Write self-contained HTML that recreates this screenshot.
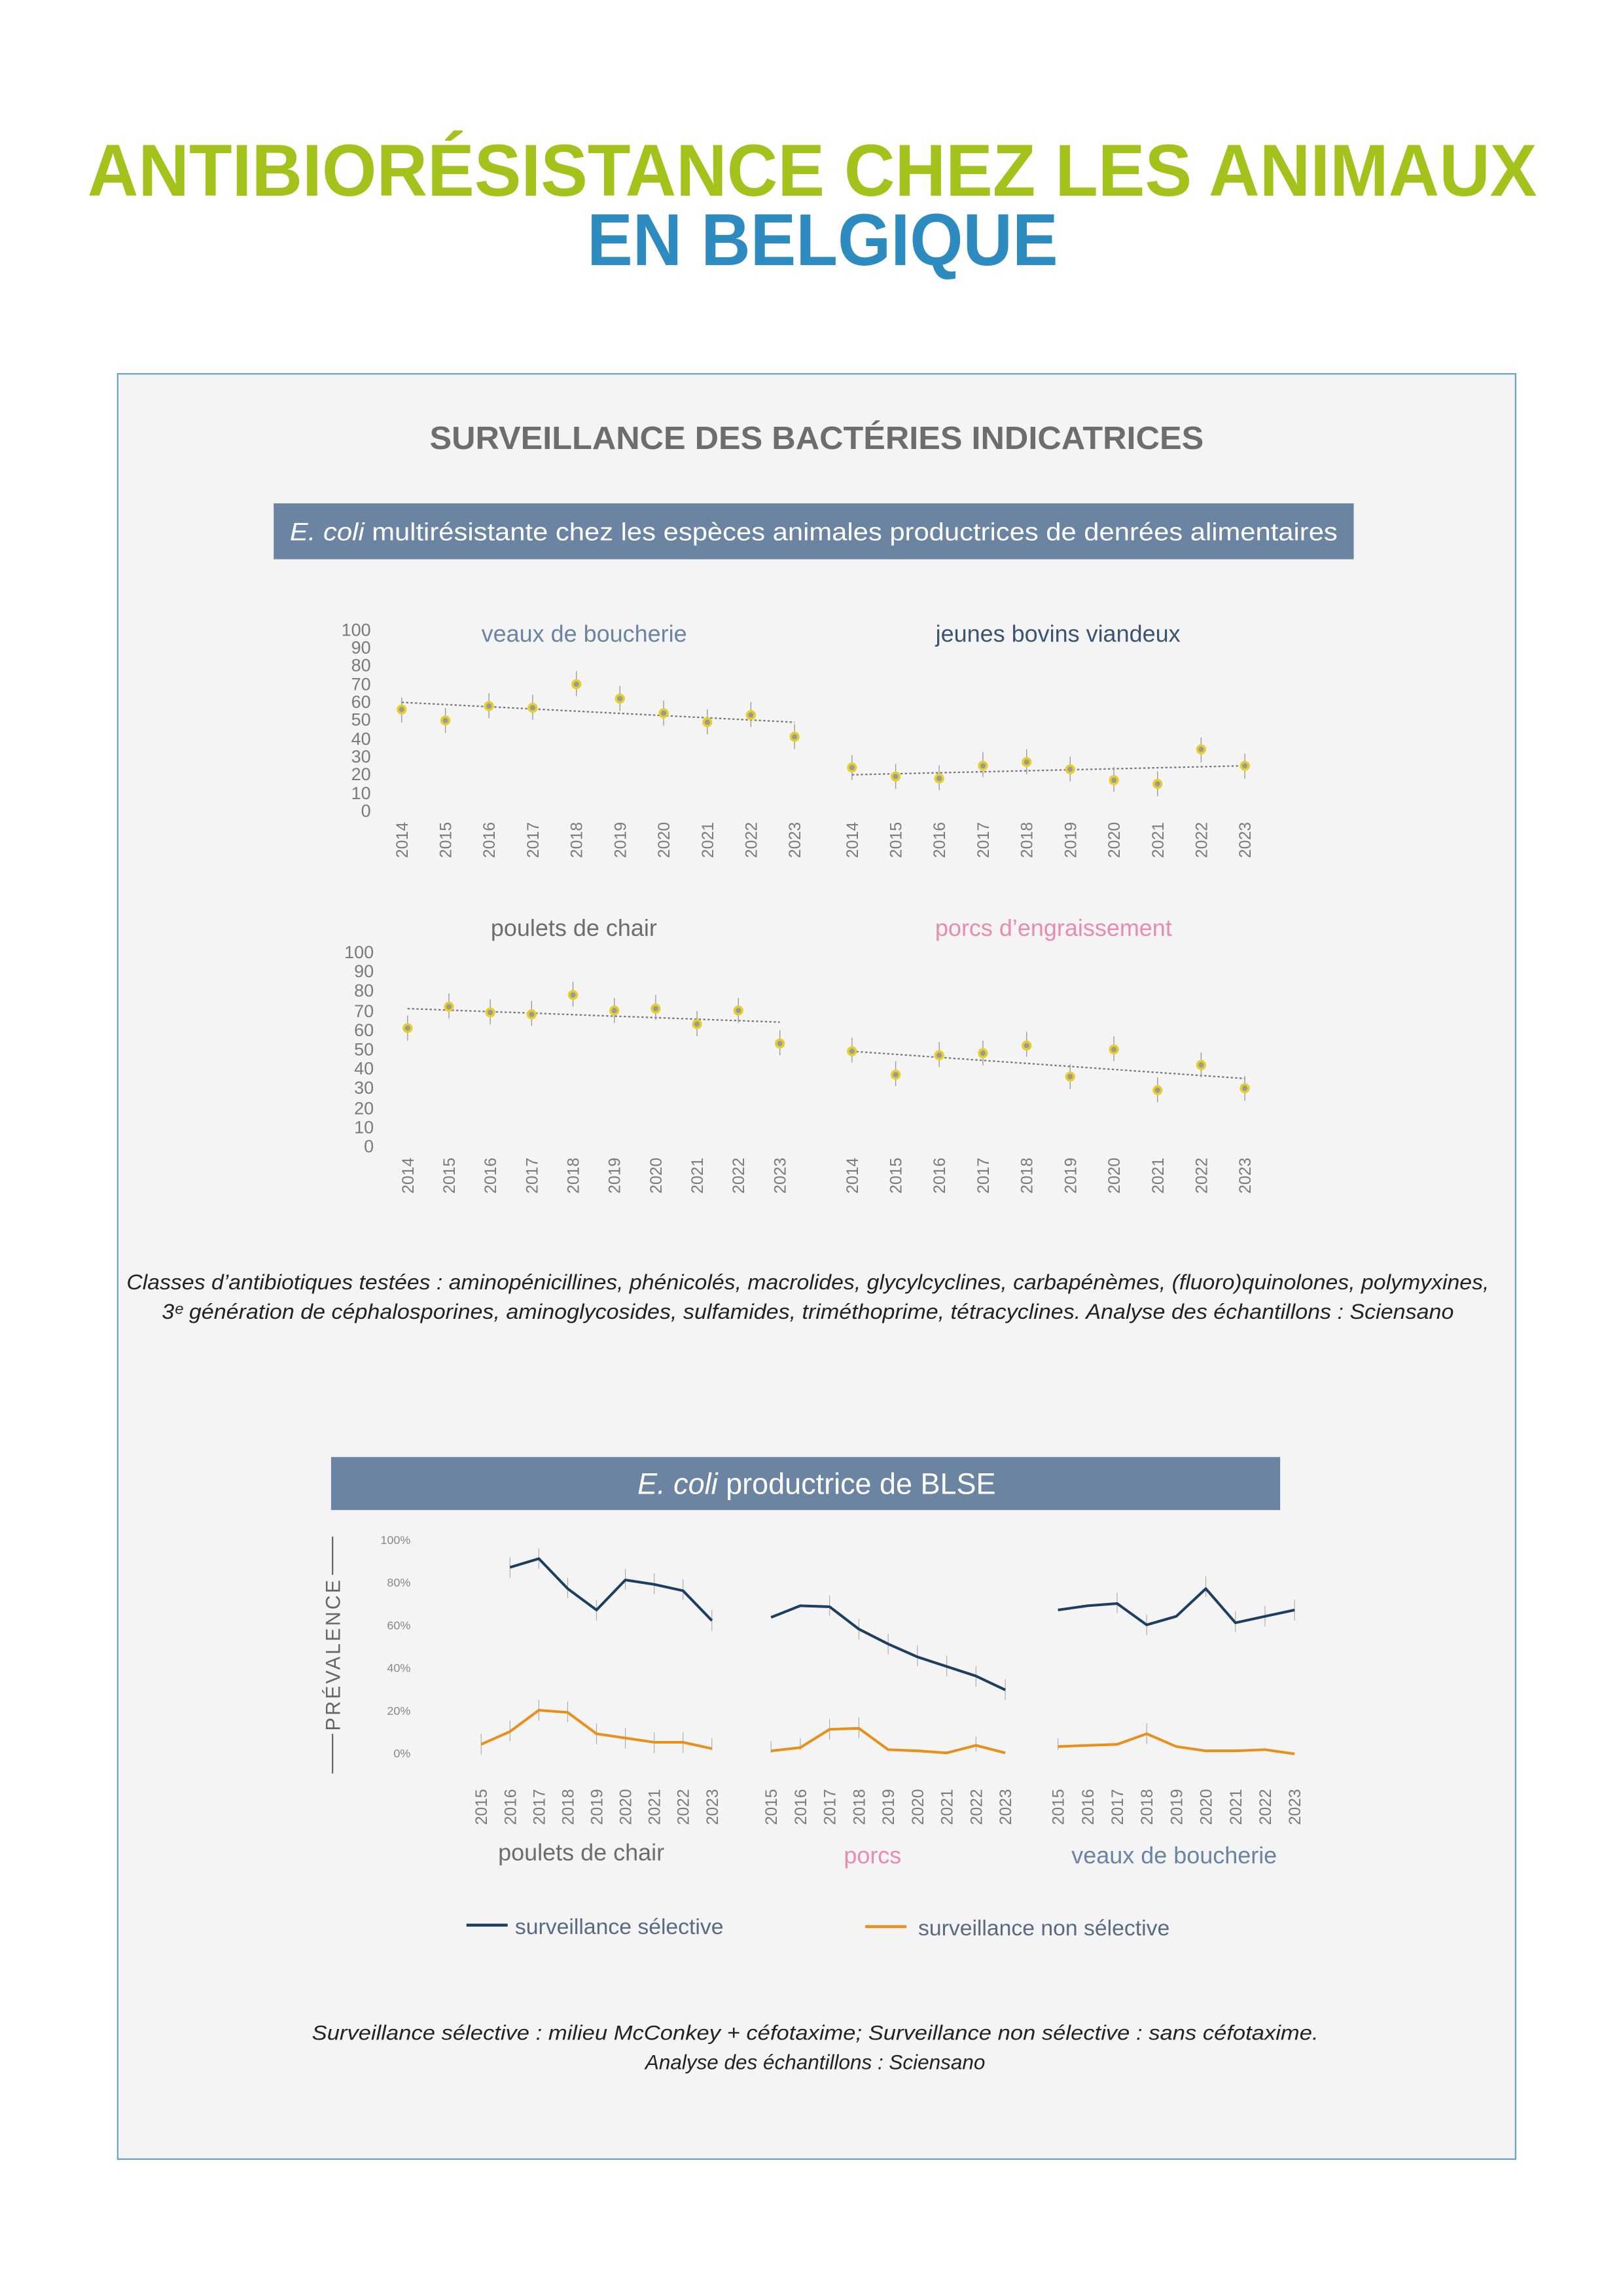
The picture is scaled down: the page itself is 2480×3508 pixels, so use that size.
<!DOCTYPE html>
<html><head><meta charset="utf-8"><style>
html,body{margin:0;padding:0;background:#fff}
svg{display:block}
text{font-family:"Liberation Sans",sans-serif}
</style></head><body>
<svg width="2480" height="3508" viewBox="0 0 1103 1560" preserveAspectRatio="none" xmlns="http://www.w3.org/2000/svg">
<rect width="1103" height="1560" fill="#fff"/>
<text x="552" y="133" text-anchor="middle" font-size="50" font-weight="bold" fill="#a4c21c" textLength="985" lengthAdjust="spacingAndGlyphs">ANTIBIORÉSISTANCE CHEZ LES ANIMAUX</text>
<text x="559" y="180" text-anchor="middle" font-size="50" font-weight="bold" fill="#2e8bc0" textLength="320" lengthAdjust="spacingAndGlyphs">EN BELGIQUE</text>
<rect x="80" y="254" width="950" height="1213" fill="#f4f4f4" stroke="#6aa6c6" stroke-width="1"/>
<text x="555" y="305" text-anchor="middle" font-size="22" font-weight="bold" fill="#6d6d6d" textLength="526" lengthAdjust="spacingAndGlyphs">SURVEILLANCE DES BACTÉRIES INDICATRICES</text>
<rect x="186" y="342" width="734" height="38" fill="#6a84a2"/>
<text x="553" y="367" text-anchor="middle" font-size="17" fill="#fff" textLength="712" lengthAdjust="spacingAndGlyphs"><tspan font-style="italic">E. coli</tspan> multirésistante chez les espèces animales productrices de denrées alimentaires</text>

<g font-size="12" fill="#7a7a7a" text-anchor="end">
<text x="252" y="432">100</text><text x="252" y="444">90</text><text x="252" y="456">80</text><text x="252" y="469">70</text><text x="252" y="481">60</text><text x="252" y="493">50</text><text x="252" y="506">40</text><text x="252" y="518">30</text><text x="252" y="530">20</text><text x="252" y="543">10</text><text x="252" y="555">0</text>
<text x="254" y="651">100</text><text x="254" y="664">90</text><text x="254" y="677">80</text><text x="254" y="691">70</text><text x="254" y="704">60</text><text x="254" y="717">50</text><text x="254" y="730">40</text><text x="254" y="743">30</text><text x="254" y="757">20</text><text x="254" y="770">10</text><text x="254" y="783">0</text>
</g>
<text x="397" y="436" text-anchor="middle" font-size="16" fill="#6a84a2">veaux de boucherie</text>
<text x="719" y="436" text-anchor="middle" font-size="16" fill="#3c5470">jeunes bovins viandeux</text>
<text x="390" y="636" text-anchor="middle" font-size="16" fill="#6d6d6d">poulets de chair</text>
<text x="716" y="636" text-anchor="middle" font-size="16" fill="#e88bb0">porcs d’engraissement</text>

<g stroke="#777" stroke-width="1" stroke-dasharray="1.5,1.5">
<line x1="273" y1="477.2" x2="540" y2="490.7"/>
<line x1="579" y1="526.4" x2="846" y2="520.3"/>
<line x1="277" y1="685.3" x2="530" y2="694.5"/>
<line x1="579" y1="714.3" x2="846" y2="732.8"/>
</g>
<g stroke="#999" stroke-width="0.6">
<path d="M273 474v17M302.7 481v17M332.3 471v17M362 472v17M391.7 456v17M421.3 466v17M451 476v17M480.7 482v17M510.3 477v17M540 492v17"/>
<path d="M579 513v17M608.7 519v17M638.3 520v17M668 511v17M697.7 509v17M727.3 514v17M757 521v17M786.7 524v17M816.3 501v17M846 512v17"/>
<path d="M277 690v17M305.1 675v17M333.2 679v17M361.3 680v17M389.4 667v17M417.5 678v17M445.6 676v17M473.7 687v17M501.8 678v17M530 700v17"/>
<path d="M579 705v17M608.7 721v17M638.3 708v17M668 707v17M697.7 701v17M727.3 723v17M757 704v17M786.7 732v17M816.3 715v17M846 731v17"/>
</g>
<g fill="#9a9a9a" stroke="#e6cf2a" stroke-width="1.6">
<circle cx="273" cy="482.1" r="2.6"/><circle cx="302.7" cy="489.5" r="2.6"/><circle cx="332.3" cy="479.7" r="2.6"/><circle cx="362" cy="480.9" r="2.6"/><circle cx="391.7" cy="464.9" r="2.6"/><circle cx="421.3" cy="474.7" r="2.6"/><circle cx="451" cy="484.6" r="2.6"/><circle cx="480.7" cy="490.7" r="2.6"/><circle cx="510.3" cy="485.8" r="2.6"/><circle cx="540" cy="500.6" r="2.6"/>
<circle cx="579" cy="521.5" r="2.6"/><circle cx="608.7" cy="527.6" r="2.6"/><circle cx="638.3" cy="528.9" r="2.6"/><circle cx="668" cy="520.3" r="2.6"/><circle cx="697.7" cy="517.8" r="2.6"/><circle cx="727.3" cy="522.7" r="2.6"/><circle cx="757" cy="530.1" r="2.6"/><circle cx="786.7" cy="532.6" r="2.6"/><circle cx="816.3" cy="509.2" r="2.6"/><circle cx="846" cy="520.3" r="2.6"/>
<circle cx="277" cy="698.5" r="2.6"/><circle cx="305.1" cy="684" r="2.6"/><circle cx="333.2" cy="687.9" r="2.6"/><circle cx="361.3" cy="689.2" r="2.6"/><circle cx="389.4" cy="676" r="2.6"/><circle cx="417.5" cy="686.6" r="2.6"/><circle cx="445.6" cy="685.3" r="2.6"/><circle cx="473.7" cy="695.8" r="2.6"/><circle cx="501.8" cy="686.6" r="2.6"/><circle cx="530" cy="709" r="2.6"/>
<circle cx="579" cy="714.3" r="2.6"/><circle cx="608.7" cy="730.2" r="2.6"/><circle cx="638.3" cy="717" r="2.6"/><circle cx="668" cy="715.6" r="2.6"/><circle cx="697.7" cy="710.4" r="2.6"/><circle cx="727.3" cy="731.5" r="2.6"/><circle cx="757" cy="713" r="2.6"/><circle cx="786.7" cy="740.7" r="2.6"/><circle cx="816.3" cy="723.6" r="2.6"/><circle cx="846" cy="739.4" r="2.6"/>
</g>
<g font-size="11" fill="#7a7a7a">
<text transform="translate(277,583) rotate(-90)">2014</text><text transform="translate(306.7,583) rotate(-90)">2015</text><text transform="translate(336.3,583) rotate(-90)">2016</text><text transform="translate(366,583) rotate(-90)">2017</text><text transform="translate(395.7,583) rotate(-90)">2018</text><text transform="translate(425.3,583) rotate(-90)">2019</text><text transform="translate(455,583) rotate(-90)">2020</text><text transform="translate(484.7,583) rotate(-90)">2021</text><text transform="translate(514.3,583) rotate(-90)">2022</text><text transform="translate(544,583) rotate(-90)">2023</text>
<text transform="translate(583,583) rotate(-90)">2014</text><text transform="translate(612.7,583) rotate(-90)">2015</text><text transform="translate(642.3,583) rotate(-90)">2016</text><text transform="translate(672,583) rotate(-90)">2017</text><text transform="translate(701.7,583) rotate(-90)">2018</text><text transform="translate(731.3,583) rotate(-90)">2019</text><text transform="translate(761,583) rotate(-90)">2020</text><text transform="translate(790.7,583) rotate(-90)">2021</text><text transform="translate(820.3,583) rotate(-90)">2022</text><text transform="translate(850,583) rotate(-90)">2023</text>
<text transform="translate(281,811) rotate(-90)">2014</text><text transform="translate(309.1,811) rotate(-90)">2015</text><text transform="translate(337.2,811) rotate(-90)">2016</text><text transform="translate(365.3,811) rotate(-90)">2017</text><text transform="translate(393.4,811) rotate(-90)">2018</text><text transform="translate(421.5,811) rotate(-90)">2019</text><text transform="translate(449.6,811) rotate(-90)">2020</text><text transform="translate(477.7,811) rotate(-90)">2021</text><text transform="translate(505.8,811) rotate(-90)">2022</text><text transform="translate(534,811) rotate(-90)">2023</text>
<text transform="translate(583,811) rotate(-90)">2014</text><text transform="translate(612.7,811) rotate(-90)">2015</text><text transform="translate(642.3,811) rotate(-90)">2016</text><text transform="translate(672,811) rotate(-90)">2017</text><text transform="translate(701.7,811) rotate(-90)">2018</text><text transform="translate(731.3,811) rotate(-90)">2019</text><text transform="translate(761,811) rotate(-90)">2020</text><text transform="translate(790.7,811) rotate(-90)">2021</text><text transform="translate(820.3,811) rotate(-90)">2022</text><text transform="translate(850,811) rotate(-90)">2023</text>
</g>
<g font-size="14.5" font-style="italic" fill="#222" text-anchor="middle">
<text x="549" y="876" textLength="926" lengthAdjust="spacingAndGlyphs">Classes d’antibiotiques testées : aminopénicillines, phénicolés, macrolides, glycylcyclines, carbapénèmes, (fluoro)quinolones, polymyxines,</text>
<text x="549" y="896" textLength="878" lengthAdjust="spacingAndGlyphs">3ᵉ génération de céphalosporines, aminoglycosides, sulfamides, triméthoprime, tétracyclines. Analyse des échantillons : Sciensano</text>
</g>

<rect x="225" y="990" width="645" height="36" fill="#6a84a2"/>
<text x="555" y="1015" text-anchor="middle" font-size="20" fill="#fff"><tspan font-style="italic">E. coli</tspan> productrice de BLSE</text>

<line x1="226" y1="1044" x2="226" y2="1070" stroke="#666" stroke-width="1"/>
<line x1="226" y1="1178" x2="226" y2="1205" stroke="#666" stroke-width="1"/>
<text transform="translate(231,1176) rotate(-90)" font-size="14" fill="#666" letter-spacing="1.5" textLength="104" lengthAdjust="spacingAndGlyphs">PRÉVALENCE</text>
<g font-size="8" fill="#888" text-anchor="end">
<text x="279" y="1049">100%</text><text x="279" y="1078">80%</text><text x="279" y="1107">60%</text><text x="279" y="1136">40%</text><text x="279" y="1165">20%</text><text x="279" y="1194">0%</text>
</g>
<g stroke="#aaa" stroke-width="0.5">
<path d="M346.6 1058v14M366.2 1052v14M385.8 1072v14M405.4 1087v14M425 1066v14M444.6 1069v14M464.2 1073v14M483.8 1094v14"/>
<path d="M327 1178v14M346.6 1169v14M366.2 1155v14M385.8 1156v14M405.4 1171v14M425 1174v14M444.6 1177v14M464.2 1177v14M483.8 1181v8"/>
<path d="M563.8 1084v14M583.7 1100v14M603.6 1110v14M623.5 1118v14M643.4 1125v14M663.3 1132v14M683.2 1141v14"/>
<path d="M524 1183v8M543.9 1181v8M563.8 1168v14M583.7 1167v14M663.3 1180v10"/>
<path d="M759.2 1082v14M779.3 1097v14M819.5 1071v14M839.6 1095v14M859.7 1091v14M879.8 1087v14"/>
<path d="M719 1181v8M779.3 1171v14"/>
</g>
<g fill="none" stroke-width="1.8" stroke-linejoin="round">
<polyline stroke="#1d3f5e" points="346.6,1064.9 366.2,1059 385.8,1079.4 405.4,1093.9 425,1073.5 444.6,1076.5 464.2,1080.8 483.8,1101.1"/>
<polyline stroke="#1d3f5e" points="524,1098.9 543.9,1091 563.8,1091.7 583.7,1106.9 603.6,1117 623.5,1125.8 643.4,1132.3 663.3,1138.8 683.2,1148.2"/>
<polyline stroke="#1d3f5e" points="719,1093.9 739.1,1091 759.2,1089.5 779.3,1104 799.4,1098.2 819.5,1079.4 839.6,1102.6 859.7,1098.2 879.8,1093.9"/>
<polyline stroke="#e8901c" points="327,1185.2 346.6,1176.5 366.2,1162 385.8,1163.5 405.4,1178 425,1180.9 444.6,1183.8 464.2,1183.8 483.8,1188.1"/>
<polyline stroke="#e8901c" points="524,1189.6 543.9,1187.4 563.8,1175 583.7,1174.3 603.6,1188.8 623.5,1189.6 643.4,1191 663.3,1185.9 683.2,1191"/>
<polyline stroke="#e8901c" points="719,1186.7 739.1,1185.9 759.2,1185.2 779.3,1178 799.4,1186.7 819.5,1189.6 839.6,1189.6 859.7,1188.8 879.8,1191.7"/>
</g>
<g font-size="11" fill="#7a7a7a">
<text transform="translate(331,1240) rotate(-90)">2015</text><text transform="translate(350.6,1240) rotate(-90)">2016</text><text transform="translate(370.2,1240) rotate(-90)">2017</text><text transform="translate(389.8,1240) rotate(-90)">2018</text><text transform="translate(409.4,1240) rotate(-90)">2019</text><text transform="translate(429,1240) rotate(-90)">2020</text><text transform="translate(448.6,1240) rotate(-90)">2021</text><text transform="translate(468.2,1240) rotate(-90)">2022</text><text transform="translate(487.8,1240) rotate(-90)">2023</text>
<text transform="translate(528,1240) rotate(-90)">2015</text><text transform="translate(547.9,1240) rotate(-90)">2016</text><text transform="translate(567.8,1240) rotate(-90)">2017</text><text transform="translate(587.7,1240) rotate(-90)">2018</text><text transform="translate(607.6,1240) rotate(-90)">2019</text><text transform="translate(627.5,1240) rotate(-90)">2020</text><text transform="translate(647.4,1240) rotate(-90)">2021</text><text transform="translate(667.3,1240) rotate(-90)">2022</text><text transform="translate(687.2,1240) rotate(-90)">2023</text>
<text transform="translate(723,1240) rotate(-90)">2015</text><text transform="translate(743.1,1240) rotate(-90)">2016</text><text transform="translate(763.2,1240) rotate(-90)">2017</text><text transform="translate(783.3,1240) rotate(-90)">2018</text><text transform="translate(803.4,1240) rotate(-90)">2019</text><text transform="translate(823.5,1240) rotate(-90)">2020</text><text transform="translate(843.6,1240) rotate(-90)">2021</text><text transform="translate(863.7,1240) rotate(-90)">2022</text><text transform="translate(883.8,1240) rotate(-90)">2023</text>
</g>
<text x="395" y="1264" text-anchor="middle" font-size="16" fill="#6d6d6d">poulets de chair</text>
<text x="593" y="1266" text-anchor="middle" font-size="16" fill="#e88bb0">porcs</text>
<text x="798" y="1266" text-anchor="middle" font-size="16" fill="#6a84a2">veaux de boucherie</text>
<line x1="317" y1="1308" x2="345" y2="1308" stroke="#1d3f5e" stroke-width="2"/>
<text x="350" y="1314" font-size="15" fill="#5a6a80">surveillance sélective</text>
<line x1="588" y1="1309" x2="616" y2="1309" stroke="#e8901c" stroke-width="2"/>
<text x="624" y="1315" font-size="15" fill="#5a6a80">surveillance non sélective</text>
<g font-size="14" font-style="italic" fill="#222" text-anchor="middle">
<text x="554" y="1386" textLength="684" lengthAdjust="spacingAndGlyphs">Surveillance sélective : milieu McConkey + céfotaxime; Surveillance non sélective : sans céfotaxime.</text>
<text x="554" y="1406">Analyse des échantillons : Sciensano</text>
</g>
</svg>
</body></html>
